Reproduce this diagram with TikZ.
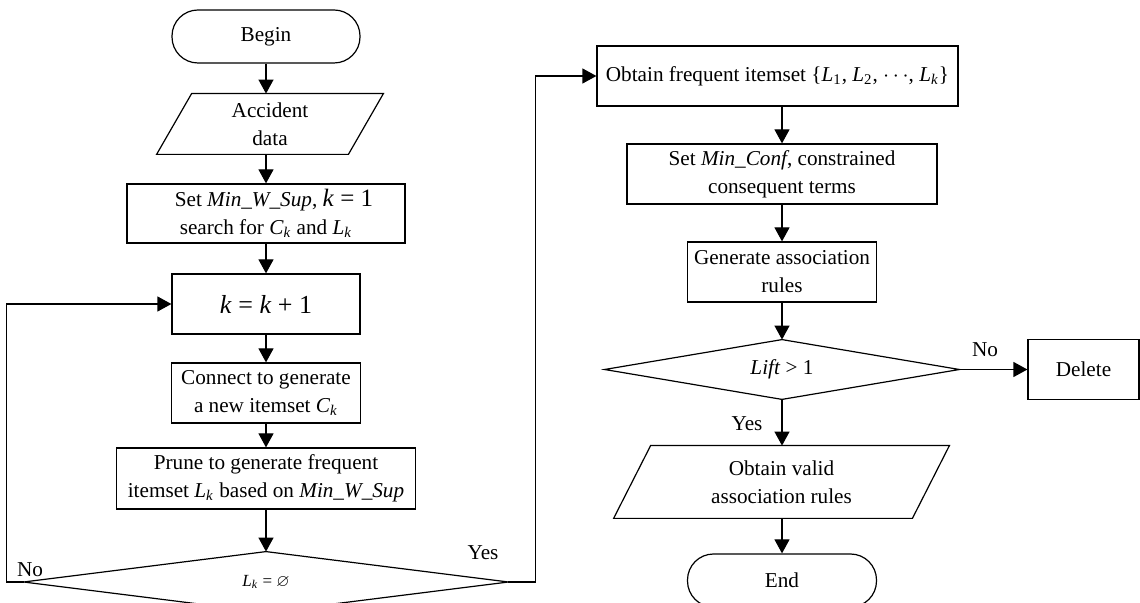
\documentclass[tikz,border=0pt]{standalone}
\usepackage{amssymb}
\usepackage{fontspec}
\setmainfont{Liberation Serif}
\usetikzlibrary{arrows.meta}
\newcommand\myit[1]{\textit{#1}}
\newcommand\mysub[2]{\textit{#1}\textsubscript{\textit{#2}}}
\begin{document}
\begin{tikzpicture}[x=0.5pt,y=-0.5pt,
  font=\fontsize{10.6}{14}\selectfont,
  line/.style={line width=0.6pt},
  flowbox/.style={draw, line, inner sep=0pt, align=center},
  term/.style={flowbox, rounded corners=13pt},
  hold/.style={inner sep=0pt, align=center},
  arr/.style={line, -{Triangle[length=7pt,width=7.5pt]}},
  lbl/.style={inner sep=0pt}]
\useasboundingbox (0,0) rectangle (1140,603);
\clip (0,0) rectangle (1140,603);

% left column
\node[term, minimum width=94pt, minimum height=26.5pt] (begin) at (266,36.5) {Begin};
\node[hold, minimum width=95.5pt, minimum height=30pt] (acc) at (270,124) {Accident\\data};
\draw[line] ([xshift=8.75pt]acc.north west) -- ([xshift=8.75pt]acc.north east)
  -- ([xshift=-8.75pt]acc.south east) -- ([xshift=-8.75pt]acc.south west) -- cycle;
\node[flowbox, minimum width=139pt, minimum height=29.5pt] (setw) at (266,213.5)
  {\hspace*{8pt}Set \myit{Min\_W\_Sup}, {\fontsize{12.5}{14}\selectfont\myit{k} = 1}\\search for \mysub{C}{k} and \mysub{L}{k}};
\node[flowbox, minimum width=94pt, minimum height=30pt] (kbox) at (266,304)
  {{\fontsize{13}{14}\selectfont\myit{k} = \myit{k} + 1}};
\node[flowbox, minimum width=94.5pt, minimum height=30pt] (conn) at (266,393)
  {Connect to generate\\a new itemset \mysub{C}{k}};
\node[flowbox, minimum width=149.5pt, minimum height=30.5pt] (prune) at (266,478.5)
  {Prune to generate frequent\\itemset \mysub{L}{k} based on \myit{Min\_W\_Sup}};
\node[hold, minimum width=242pt, minimum height=30pt, font=\fontsize{8.5}{10}\selectfont] (lk) at (266,582)
  {\mysub{L}{k} = $\varnothing$};
\draw[line] (lk.north) -- (lk.east) -- (lk.south) -- (lk.west) -- cycle;

% right column
\node[flowbox, minimum width=180.5pt, minimum height=30pt] (obtain) at (777.5,76)
  {Obtain frequent itemset \{\myit{L}\textsubscript{1}, \myit{L}\textsubscript{2}, $\cdots$, \mysub{L}{k}\}};
\node[flowbox, minimum width=155pt, minimum height=30pt] (conf) at (782,174)
  {Set \myit{Min\_Conf}, constrained\\consequent terms};
\node[flowbox, minimum width=94.5pt, minimum height=30pt] (gen) at (782,272)
  {Generate association\\rules};
\node[hold, minimum width=177pt, minimum height=29.5pt] (lift) at (782,369.5)
  {\myit{Lift} > 1};
\draw[line] (lift.north) -- (lift.east) -- (lift.south) -- (lift.west) -- cycle;
\node[flowbox, minimum width=55.5pt, minimum height=30pt] (del) at (1083.5,369.5) {Delete};
\node[hold, minimum width=149pt, minimum height=36pt] (valid) at (781.5,482)
  {Obtain valid\\association rules};
\draw[line] ([xshift=9.25pt]valid.north west) -- ([xshift=9.25pt]valid.north east)
  -- ([xshift=-9.25pt]valid.south east) -- ([xshift=-9.25pt]valid.south west) -- cycle;
\node[term, minimum width=94.5pt, minimum height=26.5pt] (end) at (782,580.5) {End};

% connectors
\draw[arr] (begin.south) -- (begin.south |- acc.north);
\draw[arr] (setw.north |- acc.south) -- (setw.north);
\draw[arr] (setw.south) -- (kbox.north);
\draw[arr] (kbox.south) -- (conn.north);
\draw[arr] (conn.south) -- (prune.north);
\draw[arr] (prune.south) -- (lk.north);
\draw[arr] (lk.west) -- ++(-17,0) |- (kbox.west);
\draw[arr] (lk.east) -- ++(27,0) |- (obtain.west);
\draw[arr] (conf.north |- obtain.south) -- (conf.north);
\draw[arr] (conf.south) -- (gen.north);
\draw[arr] (gen.south) -- (lift.north);
\draw[arr] (lift.east) -- (del.west);
\draw[arr] (lift.south) -- (lift.south |- valid.north);
\draw[arr] (end.north |- valid.south) -- (end.north);

% labels
\node[lbl] (no1) at (30,570) {No};
\node[lbl] (yes1) at (483,553) {Yes};
\node[lbl] (no2) at (985,350) {No};
\node[lbl] (yes2) at (747,424) {Yes};
\end{tikzpicture}
\end{document}
